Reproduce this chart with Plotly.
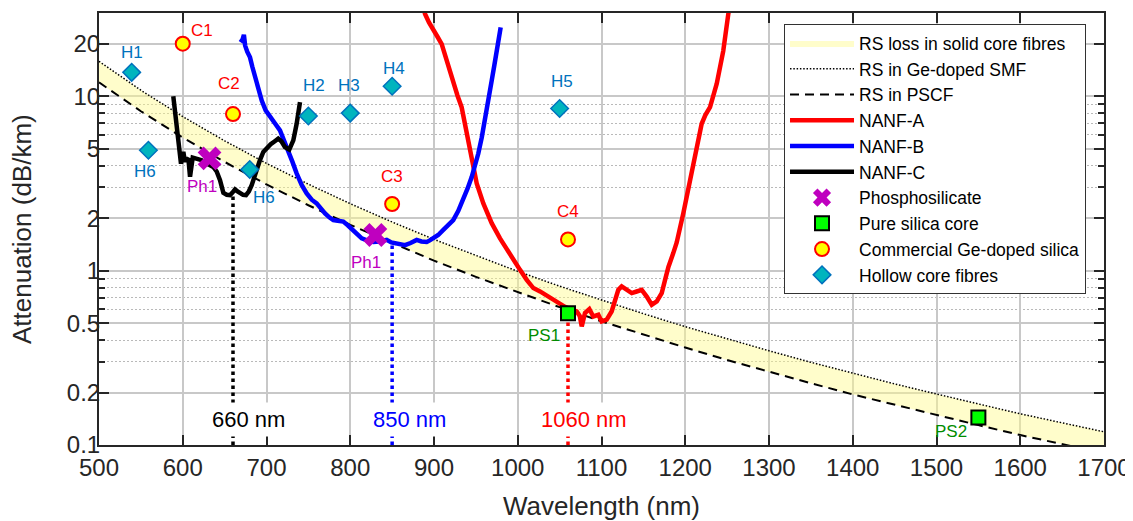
import math
import plotly.graph_objects as go

# ---------------- data ----------------
wl_grid = [500, 550, 600, 650, 700, 750, 800, 850, 900, 950, 1000, 1050, 1100,
           1150, 1200, 1250, 1300, 1350, 1400, 1450, 1500, 1550, 1600, 1650, 1700]
rs_smf = [15.84, 10.82, 7.64, 5.55, 4.12, 3.13, 2.42, 1.90, 1.51, 1.22, 0.99, 0.814, 0.676,
          0.566, 0.477, 0.406, 0.347, 0.298, 0.258, 0.224, 0.196, 0.172, 0.151, 0.134, 0.119]
rs_pscf = [12.0, 8.20, 5.79, 4.20, 3.12, 2.37, 1.83, 1.44, 1.14, 0.921, 0.75, 0.617, 0.512,
           0.429, 0.362, 0.307, 0.263, 0.226, 0.195, 0.170, 0.148, 0.130, 0.114, 0.101, 0.0898]

nanf_a_wl = [887, 889.3, 894, 899.2, 904, 909.2, 915.2, 919, 923, 928,
             933, 939, 945, 951, 958.9, 968.9, 978.8, 990.7, 1002.7, 1010.7,
             1018.6, 1026.6, 1034, 1042.5, 1050, 1056.4, 1063, 1070.4, 1074, 1076.4,
             1080.3, 1085.5, 1090.2, 1096.2, 1100.2, 1106.2, 1112.1, 1116.1, 1120.1, 1124.1,
             1130.1, 1136.1, 1142, 1148, 1154, 1160, 1166, 1171.9, 1175.9, 1179.9,
             1185.7, 1189.8, 1197.7, 1205.7, 1213.7, 1219.6, 1224, 1229.6, 1237.6, 1245.4,
             1251.4, 1253]
nanf_a_loss = [33, 29.6, 26.5, 24.3, 22, 19.9, 16.0, 13.8, 11.8, 10.1,
               8.65, 6.10, 4.29, 3.16, 2.43, 1.87, 1.53, 1.26, 1.01, 0.885,
               0.794, 0.76, 0.72, 0.68, 0.645, 0.62, 0.60, 0.583, 0.55, 0.479,
               0.571, 0.602, 0.546, 0.558, 0.511, 0.523, 0.583, 0.681, 0.776, 0.811,
               0.776, 0.743, 0.759, 0.776, 0.71, 0.637, 0.665, 0.743, 0.885, 1.05,
               1.26, 1.45, 2.13, 3.30, 5.11, 6.95, 7.8, 8.65, 11.8, 18.2,
               29.6, 33]

nanf_b_wl = [669, 671.5, 673, 674.5, 677, 680.3, 683, 686.3, 690, 694.3,
             699, 704.2, 710, 716.1, 721, 726, 731, 736.1, 742, 748,
             754, 759.9, 765, 769.9, 775, 779.8, 785, 791.7, 797, 803.6,
             808, 813.7, 820, 827.5, 835, 843.5, 849, 855.5, 860, 865.4,
             872, 879.3, 885, 891.3, 895, 899.2, 905, 911.1, 917, 923,
             929, 935, 940, 945, 949, 952.9, 957, 960.9, 965, 968.9,
             972, 974.9, 977.5, 979.6]
nanf_b_loss = [20.4, 21.2, 22.5, 19.5, 18.0, 16.7, 14.8, 12.8, 11.0, 9.45,
               8.3, 7.59, 7.0, 6.37, 5.6, 4.89, 4.2, 3.60, 3.1, 2.77,
               2.55, 2.43, 2.25, 2.13, 2.02, 1.95, 1.93, 1.91, 1.82, 1.71,
               1.62, 1.53, 1.49, 1.46, 1.47, 1.50, 1.45, 1.43, 1.42, 1.40,
               1.44, 1.50, 1.47, 1.46, 1.49, 1.53, 1.60, 1.71, 1.82, 1.95,
               2.2, 2.54, 2.95, 3.44, 4.0, 4.69, 5.8, 7.26, 9.5, 12.3,
               15.0, 18.2, 21.5, 24.8]

nanf_c_wl = [588.7, 590.5, 591.9, 593.5, 594.7, 596.5, 597.9, 599.5, 600.7, 602.3,
             603.9, 606.7, 608.7, 611.9, 615, 618.6, 622.5, 626.6, 631.5, 636.5,
             640.5, 644.5, 648.5, 652.5, 656.4, 659.4, 662.4, 665.4, 668.4, 672,
             675.5, 679, 682.3, 685.3, 688.3, 692.2, 696.2, 700.5, 705, 709.5,
             714, 718, 722, 727.2, 732, 736, 740]
nanf_c_loss = [10.0, 8.3, 7.3, 6.0, 5.6, 4.6, 4.1, 4.6, 4.8, 4.3,
               4.3, 4.4, 3.45, 4.45, 4.4, 4.33, 4.3, 4.1, 4.05, 3.93,
               3.7, 3.30, 2.79, 2.72, 2.71, 2.8, 2.92, 2.85, 2.77, 2.72,
               2.71, 2.85, 3.09, 3.45, 3.85, 4.3, 4.79, 5.05, 5.30, 5.5,
               5.71, 5.5, 5.11, 4.94, 5.58, 6.95, 9.25]

phospho_wl = [632, 830]
phospho_loss = [4.4, 1.6]
phospho_lbl = ["Ph1", "Ph1"]

pure_wl = [1060, 1550]
pure_loss = [0.57, 0.144]
pure_lbl = ["PS1", "PS2"]

ge_wl = [600, 660, 850, 1060]
ge_loss = [20, 7.9, 2.41, 1.51]
ge_lbl = ["C1", "C2", "C3", "C4"]

hc_wl = [539, 559, 680, 750, 800, 850, 1050]
hc_loss = [13.7, 4.9, 3.8, 7.7, 8.0, 11.4, 8.5]
hc_lbl = ["H1", "H6", "H6", "H2", "H3", "H4", "H5"]

mark_wl = [660, 850, 1060]
mark_top = [2.7, 1.4, 0.53]
mark_lbl = ["660 nm", "850 nm", "1060 nm"]
mark_lbl_x = [678, 871, 1079]
mark_lbl_y = 0.14

y_ticks = [0.1, 0.2, 0.5, 1, 2, 5, 10, 20]
y_ticktext = ["0.1", "0.2", "0.5", "1", "2", "5", "10", "20"]
y_minor = [0.3, 0.4, 0.6, 0.7, 0.8, 0.9, 3, 4, 6, 7, 8, 9]
x_ticks = list(range(500, 1701, 100))
x_title = "Wavelength (nm)"
y_title = "Attenuation (dB/km)"

# ---------------- styling (label offsets in px) ----------------
phospho_off = [(-8, -28), (-9, -27)]
pure_off = [(-24, -22), (-27, -14)]
ge_off = [(19, 13), (-4, 31), (0, 27), (0, 28)]
hc_off = [(0, 20), (-3, -21), (14, -28), (6, 31), (-1, 28), (2, 18), (2, 27)]

FONT = "Liberation Sans, Arial, Helvetica, sans-serif"
AX = "rgb(38,38,38)"
GRID = "rgb(200,200,200)"

fig = go.Figure()

# Rayleigh band
fig.add_trace(go.Scatter(x=wl_grid, y=rs_pscf, mode="lines",
                         line=dict(width=0, color="rgba(0,0,0,0)"),
                         showlegend=False, hoverinfo="skip"))
fig.add_trace(go.Scatter(x=wl_grid, y=rs_smf, mode="lines",
                         line=dict(width=0, color="rgba(0,0,0,0)"),
                         fill="tonexty", fillcolor="rgba(255,250,140,0.45)",
                         name="RS loss in solid core fibres"))
fig.add_trace(go.Scatter(x=wl_grid, y=rs_smf, mode="lines",
                         line=dict(width=1.5, color="black", dash="1.5px,1.8px"),
                         name="RS in Ge-doped SMF"))
fig.add_trace(go.Scatter(x=wl_grid, y=rs_pscf, mode="lines",
                         line=dict(width=2, color="black", dash="9px,6px"),
                         name="RS in PSCF"))

# vertical marker lines
mark_cols = ["black", "blue", "red"]
for w, t, c in zip(mark_wl, mark_top, mark_cols):
    fig.add_trace(go.Scatter(x=[w, w], y=[0.1, t], mode="lines",
                             line=dict(width=3.5, color=c, dash="3.5px,3.5px"),
                             showlegend=False, hoverinfo="skip"))

# NANF curves
fig.add_trace(go.Scatter(x=nanf_a_wl, y=nanf_a_loss, mode="lines",
                         line=dict(width=4.5, color="rgb(255,0,0)"), name="NANF-A"))
fig.add_trace(go.Scatter(x=nanf_b_wl, y=nanf_b_loss, mode="lines",
                         line=dict(width=4.5, color="rgb(0,0,255)"), name="NANF-B"))
fig.add_trace(go.Scatter(x=nanf_c_wl, y=nanf_c_loss, mode="lines",
                         line=dict(width=4.5, color="black"), name="NANF-C"))

# markers
fig.add_trace(go.Scatter(x=phospho_wl, y=phospho_loss, mode="markers",
                         marker=dict(symbol="x", size=21, color="rgb(191,0,191)",
                                     line=dict(width=0)),
                         name="Phosphosilicate"))
fig.add_trace(go.Scatter(x=pure_wl, y=pure_loss, mode="markers",
                         marker=dict(symbol="square", size=14, color="rgb(0,255,0)",
                                     line=dict(width=2, color="black")),
                         name="Pure silica core"))
fig.add_trace(go.Scatter(x=ge_wl, y=ge_loss, mode="markers",
                         marker=dict(symbol="circle", size=14, color="rgb(255,255,0)",
                                     line=dict(width=2, color="rgb(255,0,0)")),
                         name="Commercial Ge-doped silica"))
fig.add_trace(go.Scatter(x=hc_wl, y=hc_loss, mode="markers",
                         marker=dict(symbol="diamond", size=13.5, color="rgb(0,180,190)",
                                     line=dict(width=1.5, color="rgb(0,114,189)")),
                         name="Hollow core fibres"))

# point labels (annotation y on a log axis is given as log10 of the value)
def add_labels(xs, ys, labels, offs, color):
    for x, y, t, (dx, dy) in zip(xs, ys, labels, offs):
        fig.add_annotation(x=x, y=math.log10(y), xref="x", yref="y", text=t,
                           showarrow=False, xshift=dx, yshift=dy,
                           font=dict(family=FONT, size=17, color=color))

add_labels(phospho_wl, phospho_loss, phospho_lbl, phospho_off, "rgb(191,0,191)")
add_labels(pure_wl, pure_loss, pure_lbl, pure_off, "rgb(0,140,0)")
add_labels(ge_wl, ge_loss, ge_lbl, ge_off, "rgb(255,0,0)")
add_labels(hc_wl, hc_loss, hc_lbl, hc_off, "rgb(0,114,189)")

for x, t, c in zip(mark_lbl_x, mark_lbl, mark_cols):
    fig.add_annotation(x=x, y=math.log10(mark_lbl_y), xref="x", yref="y", text=t,
                       showarrow=False, bgcolor="white", borderpad=4,
                       font=dict(family=FONT, size=22, color=c))

# axis titles placed precisely
fig.add_annotation(x=0.5, y=-0.142, xref="paper", yref="paper", text=x_title,
                   showarrow=False, xanchor="center", yanchor="middle",
                   font=dict(family=FONT, size=26, color=AX))
fig.add_annotation(x=-0.0766, y=0.5, xref="paper", yref="paper", text=y_title,
                   showarrow=False, xanchor="center", yanchor="middle", textangle=-90,
                   font=dict(family=FONT, size=26, color=AX))

# page body has an 8 px margin; size the figure to the remaining viewport
fig.update_layout(
    width=1125, height=513,
    margin=dict(l=91, r=29, t=5, b=76, pad=0),
    paper_bgcolor="white", plot_bgcolor="white",
    font=dict(family=FONT, color=AX),
    showlegend=True,
    legend=dict(x=0.6816, y=0.974, xanchor="left", yanchor="top",
                traceorder="normal",
                bgcolor="white", bordercolor="rgb(50,50,50)", borderwidth=1,
                font=dict(family=FONT, size=17.5, color="black"),
                itemwidth=64, tracegroupgap=0),
)
fig.update_xaxes(
    range=[500, 1700], tickmode="array", tickvals=x_ticks, automargin=False,
    ticklabeloverflow="allow",
    showgrid=True, gridcolor=GRID, gridwidth=1.5,
    ticks="inside", ticklen=10, tickwidth=2, tickcolor=AX,
    showline=True, linecolor=AX, linewidth=2, mirror="allticks",
    zeroline=False,
    tickfont=dict(family=FONT, size=24, color=AX),
)
fig.update_yaxes(
    type="log", range=[-1, 1.4771], tickmode="array", automargin=False,
    tickvals=y_ticks, ticktext=y_ticktext, ticklabelstandoff=-8,
    showgrid=True, gridcolor=GRID, gridwidth=1.5,
    ticks="inside", ticklen=10, tickwidth=2, tickcolor=AX,
    showline=True, linecolor=AX, linewidth=2, mirror="allticks",
    zeroline=False,
    tickfont=dict(family=FONT, size=24, color=AX),
    minor=dict(tickmode="array", tickvals=y_minor, showgrid=True,
               gridcolor="rgb(185,185,185)", griddash="2px,2px", gridwidth=1.2,
               ticks="inside", ticklen=6, tickwidth=1.5, tickcolor=AX),
)

fig.write_html("out.html")
